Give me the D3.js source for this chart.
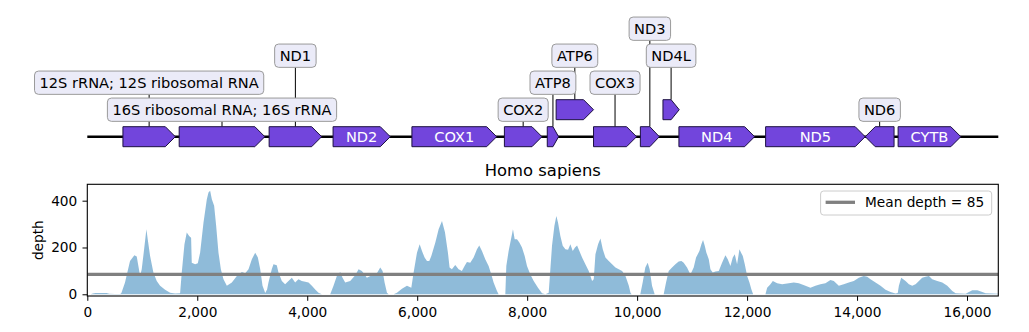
<!DOCTYPE html>
<html>
<head>
<meta charset="utf-8">
<script src="https://cdn.jsdelivr.net/npm/d3@7"></script>
<style>
  body { margin: 0; background: #fff; }
  svg { display: block; }
  text { font-family: "DejaVu Sans", sans-serif; }
</style>
</head>
<body>
<svg id="chart" width="1029" height="332"></svg>
<script>
// ---- Data -------------------------------------------------------------
const seqLength = 16569;
const plotTitle = "Homo sapiens";

const geneNames = [
  "12S rRNA; 12S ribosomal RNA", "16S ribosomal RNA; 16S rRNA", "ND1", "ND2",
  "COX1", "COX2", "ATP8", "ATP6", "COX3", "ND3", "ND4L", "ND4", "ND5", "ND6", "CYTB"
];
const geneStarts  = [648, 1671, 3307, 4470, 5904, 7586, 8366, 8527, 9207, 10059, 10470, 10760, 12337, 14149, 14747];
const geneEnds    = [1601, 3229, 4262, 5511, 7445, 8269, 8572, 9207, 9990, 10404, 10766, 12137, 14148, 14673, 15887];
const geneStrands = [1, 1, 1, 1, 1, 1, 1, 1, 1, 1, 1, 1, 1, -1, 1];

const depthPositions = [
  0, 60, 100, 150, 350, 400, 500, 600, 620, 686, 777, 856, 899, 929, 960, 990, 1026, 1075, 1099, 1142,
  1202, 1263, 1324, 1415, 1506, 1597, 1688, 1718, 1767, 1809, 1852, 1888, 1900, 1961, 2010, 2052, 2113, 2174, 2204, 2234,
  2265, 2307, 2344, 2386, 2429, 2477, 2538, 2629, 2720, 2811, 2872, 2932, 2993, 3054, 3102, 3145, 3187, 3236, 3270, 3295,
  3355, 3386, 3446, 3477, 3538, 3598, 3659, 3720, 3780, 3841, 3901, 3962, 4023, 4084, 4145, 4205, 4266, 4418, 4478, 4539,
  4600, 4642, 4691, 4782, 4873, 4934, 4994, 5043, 5085, 5176, 5267, 5328, 5371, 5407, 5450, 5480, 5571, 5632, 5723, 5814,
  5893, 5935, 5996, 6045, 6087, 6135, 6178, 6220, 6257, 6330, 6390, 6451, 6505, 6559, 6589, 6631, 6692, 6753, 6813, 6862,
  6905, 6965, 7026, 7087, 7129, 7178, 7238, 7299, 7348, 7390, 7451, 7481, 7603, 7621, 7663, 7706, 7742, 7773, 7815, 7858,
  7906, 7955, 7997, 8058, 8119, 8197, 8270, 8331, 8392, 8422, 8452, 8495, 8531, 8562, 8604, 8647, 8695, 8744, 8786, 8829,
  8870, 8908, 8950, 8999, 9059, 9120, 9181, 9211, 9242, 9290, 9333, 9375, 9424, 9484, 9545, 9606, 9666, 9727, 9788, 9849,
  9879, 9900, 10058, 10101, 10149, 10192, 10228, 10271, 10319, 10483, 10526, 10574, 10635, 10696, 10756, 10805, 10847, 10908, 10969, 11029,
  11072, 11133, 11169, 11199, 11230, 11260, 11303, 11333, 11375, 11424, 11485, 11545, 11606, 11648, 11697, 11740, 11776, 11818, 11861, 11891,
  11922, 11958, 12001, 12043, 12079, 12110, 12334, 12365, 12425, 12468, 12547, 12638, 12759, 12850, 12941, 13061, 13152, 13243, 13334, 13425,
  13516, 13577, 13668, 13759, 13850, 13941, 14032, 14123, 14184, 14245, 14336, 14427, 14518, 14609, 14700, 14740, 14761, 14803, 14840, 14882,
  14943, 15003, 15064, 15125, 15185, 15246, 15307, 15368, 15459, 15550, 15641, 15732, 15793, 15884, 15975, 16035, 16096, 16187, 16278, 16339,
  16460, 16569
];
const depthValues = [
  0, 0, 3, 5, 5, 2, 1, 1, 5, 50, 142, 167, 161, 121, 78, 107, 178, 278, 235, 164,
  93, 57, 36, 19, 7, 3, 4, 93, 214, 264, 249, 242, 135, 128, 133, 178, 306, 406, 435, 442,
  406, 378, 292, 178, 107, 64, 36, 50, 78, 95, 90, 107, 150, 178, 157, 107, 36, 5, 20, 50,
  107, 128, 124, 93, 57, 43, 57, 71, 50, 64, 57, 54, 50, 36, 21, 7, 0, 0, 36, 78,
  95, 71, 50, 57, 81, 107, 100, 85, 71, 81, 90, 114, 100, 50, 7, 0, 0, 7, 24, 36,
  28, 93, 178, 214, 185, 157, 142, 142, 164, 221, 278, 313, 265, 178, 114, 107, 125, 107, 100, 121,
  138, 135, 157, 192, 209, 185, 150, 121, 85, 50, 14, 0, 0, 121, 185, 235, 278, 235, 235, 221,
  200, 164, 121, 85, 57, 28, 4, 0, 7, 107, 207, 292, 335, 306, 249, 207, 192, 190, 214, 185,
  200, 209, 185, 157, 128, 100, 57, 64, 171, 214, 238, 192, 157, 142, 128, 114, 107, 100, 78, 36,
  7, 0, 0, 50, 114, 135, 107, 36, 0, 0, 50, 100, 114, 128, 140, 142, 135, 114, 85, 114,
  157, 185, 214, 232, 207, 178, 150, 107, 93, 97, 100, 135, 167, 150, 121, 157, 171, 128, 192, 178,
  164, 128, 78, 50, 21, 0, 0, 28, 43, 57, 47, 43, 47, 50, 47, 36, 28, 36, 43, 47,
  61, 57, 36, 43, 50, 57, 71, 78, 75, 64, 50, 36, 19, 10, 3, 5, 36, 71, 64, 57,
  43, 36, 43, 57, 71, 75, 78, 64, 57, 50, 36, 14, 4, 3, 2, 10, 17, 17, 10, 4,
  3, 2
];
const meanDepth = 85;
const xTickValues = [0, 2000, 4000, 6000, 8000, 10000, 12000, 14000, 16000];
const yTickValues = [0, 200, 400];

// ---- Styling ------------------------------------------------------------
const FEATURE_COLOR = "#7245dc";
const BOX_FILL = "#ebebf8";
const LABEL_FS = 14.6;
const TICK_FS = 13.7;

const svg = d3.select("#chart");
svg.append("rect").attr("width", 1029).attr("height", 332).attr("fill", "#fff");

const plotL = 87.3, plotR = 998.3, plotT = 184.3, plotB = 296;
const x = d3.scaleLinear().domain([0, seqLength]).range([plotL, plotR]);

// ---- Gene map -----------------------------------------------------------
const mapY0 = 136.7, levelStep = 27, featH = 20, boxH = 23.3, boxPad = 10;
const levelY = l => mapY0 - l * levelStep;

const genes = geneNames.map((name, i) => ({
  name, start: geneStarts[i], end: geneEnds[i], strand: geneStrands[i]
}));

// stack overlapping features, longest first
genes.slice()
  .sort((a, b) => (b.end - b.start) - (a.end - a.start))
  .forEach(g => {
    let lvl = 0;
    while (genes.some(o => o !== g && o.level === lvl && o.start <= g.end && g.start <= o.end)) lvl++;
    g.level = lvl;
  });

// measure label text
const measure = svg.append("text").attr("font-size", LABEL_FS).attr("visibility", "hidden");
genes.forEach(g => {
  measure.text(g.name);
  g.textW = measure.node().getComputedTextLength();
  g.px0 = x(g.start); g.px1 = x(g.end);
  g.cx = (g.px0 + g.px1) / 2;
  g.inline = g.textW + 22 <= g.px1 - g.px0;
});
measure.remove();

// place boxed labels on the lowest free level above their feature
const boxed = genes.filter(g => !g.inline);
const placed = [];
const GAP = 12;
boxed.slice()
  .sort((a, b) => (b.textW - a.textW) || ((b.end - b.start) - (a.end - a.start)))
  .forEach(g => {
    const w = g.textW + boxPad;
    const l0 = g.cx - w / 2, l1 = g.cx + w / 2;
    let lvl = g.level + 1;
    const hit = lv =>
      placed.some(p => p.lvl === lv && l0 < p.r + GAP && p.l < l1 + GAP) ||
      genes.some(f => f.level === lv && l0 < f.px1 && f.px0 < l1);
    while (hit(lvl)) lvl++;
    g.box = { l: l0, r: l1, w, lvl };
    placed.push(g.box);
  });

const map = svg.append("g");

map.append("line")
  .attr("x1", x(0)).attr("x2", x(seqLength))
  .attr("y1", mapY0).attr("y2", mapY0)
  .attr("stroke", "#000").attr("stroke-width", 2.6);

map.selectAll(".conn").data(boxed).join("line")
  .attr("x1", g => g.cx).attr("x2", g => g.cx)
  .attr("y1", g => levelY(g.level) - featH / 2)
  .attr("y2", g => levelY(g.box.lvl) + boxH / 2)
  .attr("stroke", "#000").attr("stroke-width", 1);

function arrowPath(g) {
  const x0 = g.px0, x1 = g.px1, cy = levelY(g.level);
  const t = cy - featH / 2, b = cy + featH / 2;
  const hl = Math.min(10, (x1 - x0) * 0.5);
  if (g.strand >= 0)
    return `M${x0},${t}L${x1 - hl},${t}L${x1},${cy}L${x1 - hl},${b}L${x0},${b}Z`;
  return `M${x1},${t}L${x0 + hl},${t}L${x0},${cy}L${x0 + hl},${b}L${x1},${b}Z`;
}

map.selectAll(".feat").data(genes).join("path")
  .attr("d", arrowPath)
  .attr("fill", FEATURE_COLOR)
  .attr("stroke", "#1c1040").attr("stroke-width", 1).attr("stroke-linejoin", "miter");

map.selectAll(".inl").data(genes.filter(g => g.inline)).join("text")
  .attr("x", g => g.cx)
  .attr("y", g => levelY(g.level) + 0.3645 * LABEL_FS)
  .attr("text-anchor", "middle")
  .attr("font-size", LABEL_FS)
  .attr("fill", "#fff")
  .text(g => g.name);

const boxG = map.selectAll(".box").data(boxed).join("g");
boxG.append("rect")
  .attr("x", g => g.box.l).attr("width", g => g.box.w)
  .attr("y", g => levelY(g.box.lvl) - boxH / 2).attr("height", boxH)
  .attr("rx", 4).attr("ry", 4)
  .attr("fill", BOX_FILL).attr("stroke", "#9a9a9a").attr("stroke-width", 1);
boxG.append("text")
  .attr("x", g => g.cx)
  .attr("y", g => levelY(g.box.lvl) + 0.3645 * LABEL_FS)
  .attr("text-anchor", "middle")
  .attr("font-size", LABEL_FS)
  .attr("fill", "#000")
  .text(g => g.name);

// ---- Depth plot ---------------------------------------------------------
const y = d3.scaleLinear().domain([-7.3, 470]).range([plotB, plotT]);
const depth = depthPositions.map((p, i) => [p, depthValues[i]]);

svg.append("defs").append("clipPath").attr("id", "plotClip")
  .append("rect").attr("x", plotL).attr("y", plotT)
  .attr("width", plotR - plotL).attr("height", plotB - plotT);

const plot = svg.append("g").attr("clip-path", "url(#plotClip)");

plot.append("path")
  .datum(depth)
  .attr("d", d3.area().x(d => x(d[0])).y0(y(0)).y1(d => y(d[1])))
  .attr("fill", "#1f77b4").attr("fill-opacity", 0.5);

plot.append("line")
  .attr("x1", plotL).attr("x2", plotR)
  .attr("y1", y(meanDepth)).attr("y2", y(meanDepth))
  .attr("stroke", "#808080").attr("stroke-width", 3.3);

// axes
const xAxis = svg.append("g")
  .attr("transform", `translate(0,${plotB})`)
  .call(d3.axisBottom(x).tickValues(xTickValues).tickFormat(d3.format(","))
    .tickSize(4.8).tickPadding(6));
const yAxis = svg.append("g")
  .attr("transform", `translate(${plotL},0)`)
  .call(d3.axisLeft(y).tickValues(yTickValues).tickSize(4.8).tickPadding(5.2));
[xAxis, yAxis].forEach(a => {
  a.select(".domain").remove();
  a.selectAll("line").attr("stroke", "#000").attr("stroke-width", 1);
  a.selectAll("text").attr("font-size", TICK_FS).attr("fill", "#000")
    .attr("font-family", "DejaVu Sans, sans-serif");
});

svg.append("rect")
  .attr("x", plotL).attr("y", plotT)
  .attr("width", plotR - plotL).attr("height", plotB - plotT)
  .attr("fill", "none").attr("stroke", "#000").attr("stroke-width", 1.1);

svg.append("text")
  .attr("x", (plotL + plotR) / 2).attr("y", 176)
  .attr("text-anchor", "middle").attr("font-size", 16.4).attr("fill", "#000")
  .text(plotTitle);

svg.append("text")
  .attr("transform", `translate(42.5,${(plotT + plotB) / 2}) rotate(-90)`)
  .attr("text-anchor", "middle").attr("font-size", TICK_FS).attr("fill", "#000")
  .text("depth");

// legend
const lg = svg.append("g").attr("transform", `translate(${plotR - 6.6},${plotT + 6.7})`);
const legendText = `Mean depth = ${meanDepth}`;
const lt = lg.append("text").attr("font-size", TICK_FS).text(legendText);
const ltW = lt.node().getComputedTextLength();
const lgW = ltW + 52, lgH = 24;
lg.insert("rect", "text")
  .attr("x", -lgW).attr("y", 0).attr("width", lgW).attr("height", lgH)
  .attr("rx", 3).attr("fill", "#fff").attr("fill-opacity", 0.8)
  .attr("stroke", "#cccccc").attr("stroke-width", 1);
lg.append("line")
  .attr("x1", -lgW + 5).attr("x2", -lgW + 34.4)
  .attr("y1", 11.3).attr("y2", 11.3)
  .attr("stroke", "#808080").attr("stroke-width", 3.3);
lt.attr("x", -lgW + 44.4).attr("y", 16.3).attr("fill", "#000");
</script>
</body>
</html>
